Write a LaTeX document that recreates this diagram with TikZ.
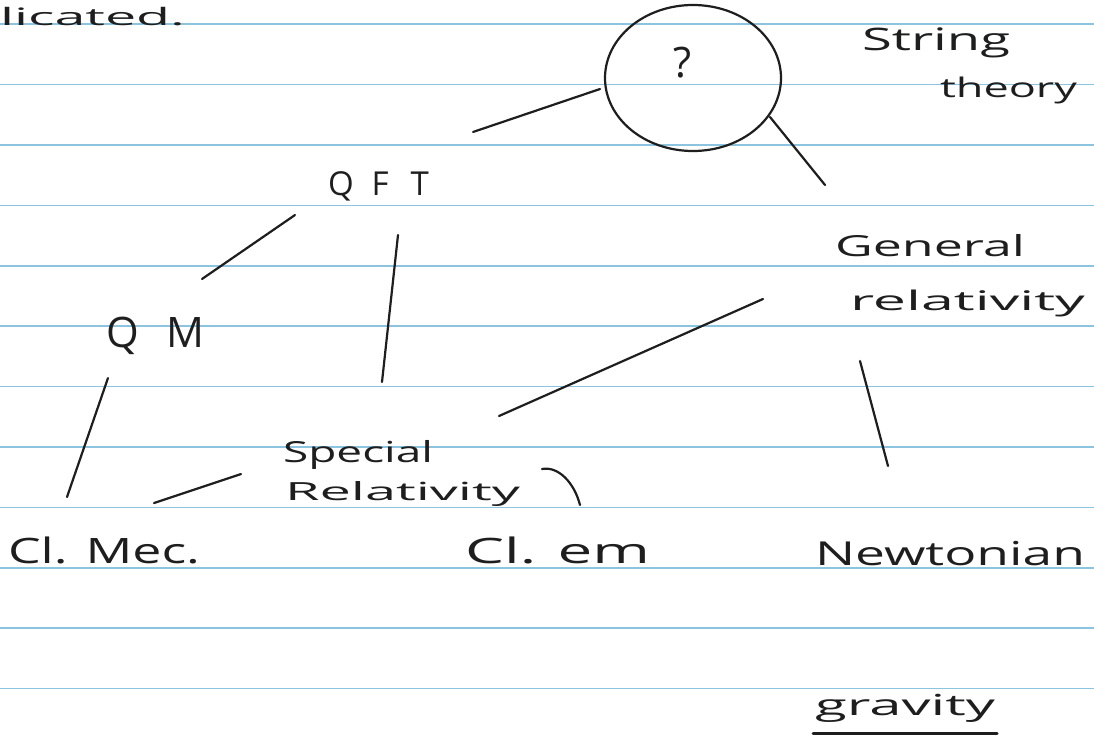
\documentclass[tikz,border=0pt]{standalone}
\usepackage{fontspec}
\setmainfont{Open Sans}
\usetikzlibrary{shapes.geometric}
\definecolor{inkc}{HTML}{1E1E1E}
\definecolor{rulec}{HTML}{8CC4E0}
\newcommand{\hw}[2]{\resizebox{#1pt}{\height}{#2}}
\newcommand{\fs}[1]{\fontsize{#1pt}{#1pt}\selectfont}
\begin{document}
\begin{tikzpicture}[x=1pt,y=-1pt,
  ink/.style={draw=inkc, line width=2.2pt, line cap=round, line join=round},
  lbl/.style={anchor=base west, inner sep=0pt, outer sep=0pt, text=inkc},
  rulestyle/.style={draw=rulec, line width=1.5pt}]
\useasboundingbox[fill=white] (0,0) rectangle (1094,736);
% ruled paper
\foreach \k in {0,...,11}{
  \draw[rulestyle] (0,24.2+60.4*\k) -- (1094,24.2+60.4*\k);
}
% texts
\node[lbl, font=\fs{24}] (cut) at (0,25) {\hw{185}{licated.}};
\node[lbl, font=\fs{31}] (str1) at (862,50) {\hw{148}{String}};
\node[lbl, font=\fs{27}] (str2) at (940,97) {\hw{137}{theory}};
\node[ellipse, ink, minimum width=176pt, minimum height=146pt, inner sep=0pt] (loop) at (693,78) {};
\node[text=inkc, inner sep=0pt, font=\fs{42}] (qmark) at (683,63) {?};
\node[lbl, font=\fs{33}] (qft) at (328,195) {Q\hspace{18pt}F\hspace{22pt}T};
\node[lbl, font=\fs{42}] (qm) at (106,347) {Q\hspace{28pt}M};
\node[lbl, font=\fs{29}] (gen1) at (835,256) {\hw{190}{General}};
\node[lbl, font=\fs{27}] (gen2) at (850,310) {\hw{235}{relativity}};
\node[lbl, font=\fs{29}] (sp1) at (283,462) {\hw{150}{Special}};
\node[lbl, font=\fs{25}] (sp2) at (285,500) {\hw{235}{Relativity}};
\node[lbl, font=\fs{35}] (clm) at (8,563) {\hw{192}{Cl. Mec.}};
\node[lbl, font=\fs{35}] (cle) at (465,563) {\hw{185}{Cl. em}};
\node[lbl, font=\fs{33}] (new) at (815,565) {\hw{270}{Newtonian}};
\node[lbl, font=\fs{29}] (grav) at (815,715) {\hw{180}{gravity}};
% connector end points
\coordinate (loopW) at (600,89);   \coordinate (qftNE) at (473,132);
\coordinate (loopSE) at (770,117); \coordinate (genN) at (825,185);
\coordinate (qftSW) at (295,215);  \coordinate (qmNE) at (202,279);
\coordinate (qftS) at (398,235);   \coordinate (spN) at (382,382);
\coordinate (genSW) at (763,299);  \coordinate (spNE) at (499,416);
\coordinate (genS) at (860,361);   \coordinate (newN) at (888,466);
\coordinate (qmS) at (108,378);    \coordinate (clmN) at (67,497);
\coordinate (spW) at (241,474);    \coordinate (clmNE) at (154,503);
\coordinate (spE) at (542,469);    \coordinate (cleN) at (580,505);
\coordinate (ulA) at (813,733);    \coordinate (ulB) at (997,733);
% connectors
\draw[ink] (qftNE) -- (loopW);
\draw[ink] (loopSE) -- (genN);
\draw[ink] (qftSW) -- (qmNE);
\draw[ink] (qftS) -- (spN);
\draw[ink] (genSW) -- (spNE);
\draw[ink] (genS) -- (newN);
\draw[ink] (qmS) -- (clmN);
\draw[ink] (spW) -- (clmNE);
\draw[ink] (spE) .. controls (558,466) and (574,482) .. (cleN);
\draw[ink, line width=3pt] (ulA) -- (ulB);
\end{tikzpicture}
\end{document}
